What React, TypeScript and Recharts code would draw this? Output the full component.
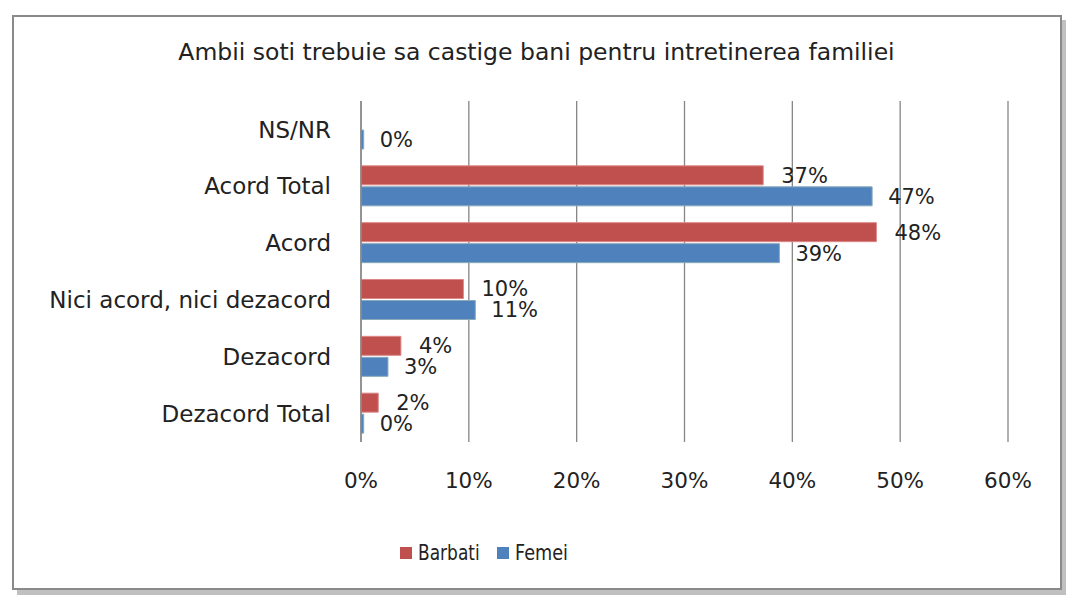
import React from 'react';
import { BarChart, Bar, XAxis, YAxis, CartesianGrid, LabelList } from 'recharts';

const categories = ['NS/NR', 'Acord Total', 'Acord', 'Nici acord, nici dezacord', 'Dezacord', 'Dezacord Total'];
const barbati: (number | null)[] = [null, 37.3, 47.8, 9.5, 3.7, 1.6];
const femei: (number | null)[] = [0.25, 47.4, 38.8, 10.6, 2.5, 0.25];
const xTicks = [0, 10, 20, 30, 40, 50, 60];
const title = 'Ambii soti trebuie sa castige bani pentru intretinerea familiei';
const seriesNames = ['Barbati', 'Femei'];

const data = categories.map((c, i) => ({ name: c, Barbati: barbati[i], Femei: femei[i] }));

const FONT = '"DejaVu Sans", sans-serif';
const RED = '#C0504D';
const BLUE = '#4F81BD';

const fmt = (v: any) => (v === null || v === undefined ? '' : `${Math.round(Number(v))}%`);

const XTick = (props: any) => {
  const { x, y, payload } = props;
  return (
    <text x={x} y={y} dy={38} textAnchor="middle" fontFamily={FONT} fontSize={21.5} fill="#222">
      {`${payload.value}%`}
    </text>
  );
};

export default function App() {
  return (
    <div style={{ position: 'absolute', left: 0, top: 0, width: 1066, height: 599, background: '#fff' }}>
      <div
        style={{
          position: 'absolute',
          left: 12,
          top: 15,
          width: 1046,
          height: 571,
          border: '2px solid #8a8a8a',
          boxShadow: '5px 5px 0 #c0c0c0',
          background: '#fff',
        }}
      />
      <div
        style={{
          position: 'absolute',
          left: 0,
          width: 1073,
          top: 38,
          textAlign: 'center',
          fontFamily: FONT,
          fontSize: 23.5,
          color: '#222',
        }}
      >
        {title}
      </div>
      <div style={{ position: 'absolute', left: 0, top: 0 }}>
        <BarChart
          width={1066}
          height={599}
          data={data}
          layout="vertical"
          margin={{ top: 101, right: 58, left: 0, bottom: 97 }}
          barSize={19}
          barGap={2}
        >
          <CartesianGrid horizontal={false} vertical={true} stroke="#868686" strokeWidth={1.3} />
          <XAxis
            type="number"
            domain={[0, 60]}
            ticks={xTicks}
            axisLine={false}
            tickLine={false}
            height={60}
            tick={<XTick />}
            interval={0}
          />
          <YAxis
            type="category"
            dataKey="name"
            width={361}
            axisLine={{ stroke: '#868686', strokeWidth: 1.3 }}
            tickLine={false}
            tickSize={0}
            tickMargin={30}
            interval={0}
            tick={{ fill: '#222', fontSize: 23, fontFamily: FONT }}
          />
          <Bar dataKey="Barbati" fill={RED} stroke="#d88" strokeWidth={1} isAnimationActive={false}>
            <LabelList dataKey="Barbati" position="right" offset={18} formatter={fmt} fill="#222" fontSize={21} fontFamily={FONT} />
          </Bar>
          <Bar dataKey="Femei" fill={BLUE} stroke="#8ab" strokeWidth={1} isAnimationActive={false}>
            <LabelList dataKey="Femei" position="right" offset={16} formatter={fmt} fill="#222" fontSize={21} fontFamily={FONT} />
          </Bar>
        </BarChart>
      </div>
      <div
        style={{
          position: 'absolute',
          left: 400,
          top: 541,
          display: 'flex',
          alignItems: 'center',
          fontFamily: FONT,
          fontSize: 21,
          color: '#222',
        }}
      >
        <span style={{ width: 12, height: 12, background: RED, display: 'inline-block', marginRight: 6 }} />
        <span style={{ display: 'inline-block', width: 79, transform: 'scaleX(0.81)', transformOrigin: 'left center' }}>
          {seriesNames[0]}
        </span>
        <span style={{ width: 12, height: 12, background: BLUE, display: 'inline-block', marginRight: 6 }} />
        <span style={{ display: 'inline-block', transform: 'scaleX(0.84)', transformOrigin: 'left center' }}>
          {seriesNames[1]}
        </span>
      </div>
    </div>
  );
}
